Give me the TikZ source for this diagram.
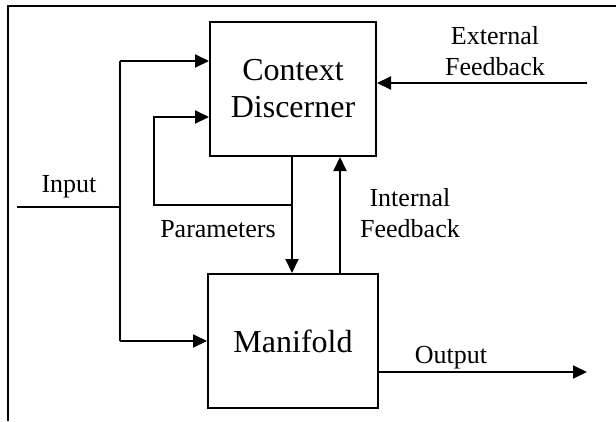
\documentclass[tikz,border=0pt]{standalone}
\usepackage{fontspec}
\setmainfont{Liberation Serif}
\usetikzlibrary{arrows.meta}
\tikzset{
  box/.style={draw, line width=2pt, minimum height=134pt, inner sep=0pt, align=center, font=\fontsize{32}{37}\selectfont},
  lbl/.style={anchor=base, align=center, inner sep=0pt, font=\fontsize{26}{31}\selectfont},
  wire/.style={line width=2pt},
  arr/.style={wire, -{Triangle[length=14pt,width=13pt]}}
}
\begin{document}
\begin{tikzpicture}[x=1pt,y=-1pt]
\useasboundingbox (0,0) rectangle (616,421);
% frame
\draw[wire] (8,421) -- (8,6) -- (616,6);
% boxes
\node[box, minimum width=166pt] (cd) at (293,89) {Context\\Discerner};
\node[box, minimum width=170pt] (mf) at (293,341) {Manifold};
% named points
\coordinate (inL) at (17,207);
\coordinate (split) at (120,207);
\coordinate (topT) at (120,61);
\coordinate (botT) at (120,341);
\coordinate (loopR) at (292,205);
\coordinate (loopBL) at (154,205);
\coordinate (loopTL) at (154,117);
\coordinate (extR) at (587,83);
\coordinate (outR) at (587,372);
% input
\draw[wire] (inL) -- (split);
\draw[wire] (topT) -- (botT);
\draw[arr] (topT) -- (cd.west |- topT);
\draw[arr] (botT) -- (mf.west |- botT);
% parameters
\draw[arr] (cd.south -| loopR) -- (mf.north -| loopR);
\draw[arr] (loopR) -- (loopBL) -- (loopTL) -- (cd.west |- loopTL);
% internal feedback
\draw[arr] (mf.north -| 340,0) -- (cd.south -| 340,0);
% external feedback
\draw[arr] (extR) -- (cd.east |- extR);
% output
\draw[arr] (mf.east |- outR) -- (outR);
% labels
\node[lbl] (lin) at (69,192) {Input};
\node[lbl] (lpar) at (218,237) {Parameters};
\node[lbl] (lint) at (410,237) {Internal\\Feedback};
\node[lbl] (lext) at (495,75) {External\\Feedback};
\node[lbl] (lout) at (451,363) {Output};
\end{tikzpicture}
\end{document}
